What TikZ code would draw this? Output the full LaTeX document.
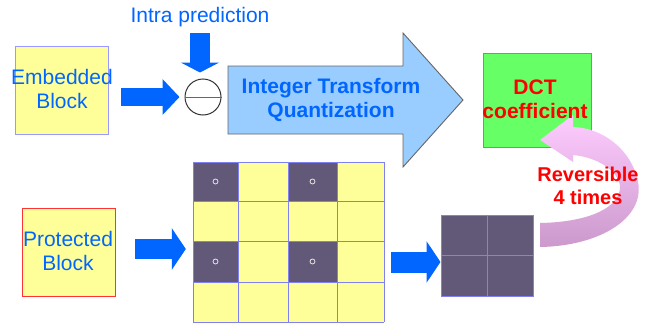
\documentclass[tikz,border=0pt]{standalone}
\usepackage{fontspec}
\setmainfont{Liberation Sans}
\usetikzlibrary{arrows.meta}
\definecolor{ablue}{HTML}{0066FF}
\definecolor{paleyellow}{HTML}{FFFF99}
\definecolor{lavender}{HTML}{9999FF}
\definecolor{skyblue}{HTML}{99CCFF}
\definecolor{leaf}{HTML}{66FF66}
\definecolor{slate}{HTML}{625878}
\definecolor{gridblue}{HTML}{8080F0}
\definecolor{pinktop}{HTML}{FFCCFF}
\definecolor{pinkmid}{HTML}{F2BDF2}
\definecolor{mauve}{HTML}{CC99CC}
\begin{document}
\begin{tikzpicture}[x=1pt,y=-1pt,
  blockbox/.style={rectangle, inner sep=0pt, line width=0.9pt},
  lbl/.style={inner sep=0pt, align=center, text=ablue, font=\fontsize{21}{24}\selectfont},
  boldlbl/.style={inner sep=0pt, align=center, font=\bfseries\fontsize{21}{24}\selectfont},
  fat/.style n args={3}{draw=ablue, line width=#1, -{Triangle[length=#2,width=#3]}},
  gridline/.style={draw=gridblue, line width=1pt},
  ring/.style={draw=white!80!gray, line width=0.8pt}]
\useasboundingbox (0,0) rectangle (652,324);
\fill[white] (0,0) rectangle (652,324);

% --- upper path: embedded block through the integer transform ---
\node[blockbox, fill=paleyellow, draw=lavender, minimum width=93pt, minimum height=88pt] (emb) at (61.5,90) {};
\node[lbl] (embtext) at (62,89.4) {Embedded\\Block};

\node[circle, draw=black!80, fill=white, line width=1pt, minimum size=36pt, inner sep=0pt] (xor) at (203,97) {};
\draw[black!60, line width=1pt] (xor.west) -- (xor.east);

\node[lbl] (intra) at (200,17.5) {Intra prediction};

\draw[fat={18pt}{17pt}{35pt}, shorten <=13pt, shorten >=5pt] (emb.east |- xor.west) -- (xor.west);
\draw[fat={20pt}{10pt}{38pt}, shorten <=5.6pt, shorten >=6pt] (intra.south) -- (intra.south |- xor.north);

% big transform arrow
\coordinate (tqs) at (228,100);
\coordinate (tqt) at (463,100);
\filldraw[fill=skyblue, draw=black!60, line width=0.9pt]
  (tqs) ++(0,-34) -- (403,66) -- (403,33) -- (tqt) -- (403,167) -- (403,134) -- (228,134) -- cycle;
\node[boldlbl, text=ablue] (itq) at (331,99.9) {Integer Transform\\Quantization};

% DCT coefficient block
\node[blockbox, fill=leaf, draw=ablue!70, minimum width=108pt, minimum height=94pt] (dct) at (537,100) {};

% --- lower path: protected block and its 4x4 split ---
\node[blockbox, fill=paleyellow, draw=red!80, minimum width=93pt, minimum height=88pt] (prot) at (68.5,252) {};
\node[lbl] (prottext) at (68,251.4) {Protected\\Block};

\node[inner sep=0pt, minimum width=191pt, minimum height=160pt] (grid) at (288.5,242) {};
\fill[paleyellow] (grid.north west) rectangle (grid.south east);
\foreach \xa/\xb in {193/238, 288/337}
  \foreach \ya/\yb in {162/201, 241/282} {
    \fill[slate] (\xa,\ya) rectangle (\xb,\yb);
    \draw[ring] ({(\xa+\xb)/2},{(\ya+\yb)/2}) circle (2.5pt);
  }
\foreach \xa in {193,238,288,337,384}
  \draw[gridline] (\xa,162) -- (\xa,322);
\foreach \ya in {162,201,241,282,322}
  \draw[gridline] (193,\ya) -- (384,\ya);

\node[blockbox, fill=slate, draw=gridblue, line width=1pt, minimum width=92pt, minimum height=81pt] (quad) at (487,255.5) {};
\draw[gridline] (quad.north) -- (quad.south);
\draw[gridline] (quad.west) -- (quad.east);

\draw[fat={20pt}{14pt}{41pt}, shorten <=20pt, shorten >=7pt] ([yshift=3pt]prot.east) -- ([yshift=3pt]prot.east -| grid.west);
\draw[fat={21pt}{14pt}{41pt}, shorten <=7pt] ([yshift=-6.5pt]quad.west -| grid.east) -- ([yshift=-6.5pt]quad.west);

% curved return arrow back to the coefficients
\shade[top color=pinktop, middle color=pinkmid, bottom color=mauve]
  (540,247) .. controls (600,246) and (645,218) .. (638,182)
  .. controls (632,150) and (603,128) .. (573,127)
  -- (573,115) -- (540,140) -- (573,162) -- (573,155)
  .. controls (596,157) and (618,170) .. (620,186)
  .. controls (621,206) and (592,222) .. (540,223) -- cycle;

\node[boldlbl, text=red] (dcttext) at (535,99.5) {DCT\\coefficient};
\node[boldlbl, text=red, font=\bfseries\fontsize{20}{23}\selectfont] (rev) at (588,186.2) {Reversible\\4 times};
\end{tikzpicture}
\end{document}
